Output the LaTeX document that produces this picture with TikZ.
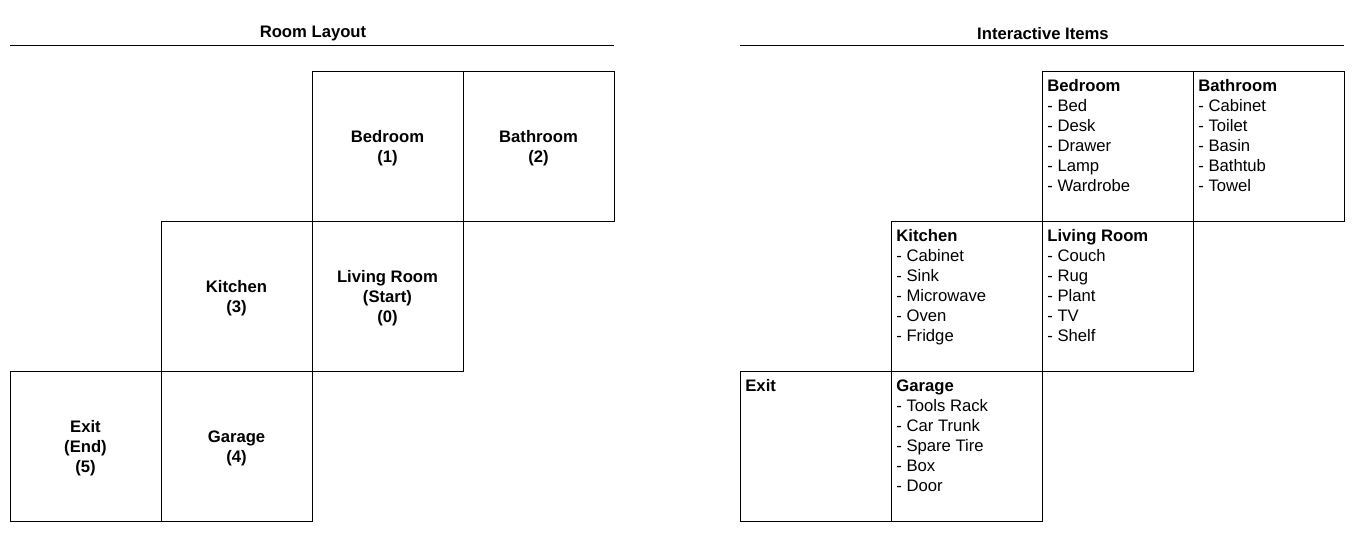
\documentclass[tikz,border=0pt]{standalone}
\usepackage{fontspec}
\setmainfont{Liberation Sans}
\begin{document}
\begin{tikzpicture}[x=0.75pt,y=-0.75pt,
  cell/.style={draw, line width=0.75pt, minimum width=113.25pt, minimum height=112.5pt, inner sep=0pt},
  roomname/.style={align=center, font=\fontsize{12.5}{15}\selectfont\bfseries},
  itemlist/.style={anchor=north west, align=left, inner sep=0pt, font=\fontsize{12.5}{15}\selectfont},
  heading/.style={font=\fontsize{12.5}{15}\selectfont\bfseries},
  rule/.style={line width=0.75pt}]
\useasboundingbox (0,0) rectangle (1359,535);

% ---- Room layout ----
\node[heading] (t1) at (313,33.5) {Room Layout};
\draw[rule] (10,45.5) -- (614,45.5);

\node[cell] (bed)  at (387.5,146.5) {};
\node[cell] (bath) at (538.5,146.5) {};
\node[cell] (kit)  at (236.5,296.5) {};
\node[cell] (liv)  at (387.5,296.5) {};
\node[cell] (exit) at (85.5,446.5) {};
\node[cell] (gar)  at (236.5,446.5) {};

\node[roomname] (bedT)  at ([yshift=-1.5pt]bed)  {Bedroom\\(1)};
\node[roomname] (bathT) at ([yshift=-1.5pt]bath) {Bathroom\\(2)};
\node[roomname] (kitT)  at ([yshift=-1.5pt]kit)  {Kitchen\\(3)};
\node[roomname] (livT)  at ([yshift=-1.5pt]liv)  {Living Room\\(Start)\\(0)};
\node[roomname] (exitT) at ([yshift=-1.5pt]exit) {Exit\\(End)\\(5)};
\node[roomname] (garT)  at ([yshift=-1.5pt]gar)  {Garage\\(4)};

% ---- Interactive items ----
\node[heading] (t2) at (1043,33.5) {Interactive Items};
\draw[rule] (740,45.5) -- (1344,45.5);

\node[cell] (ibed)  at (1117.5,146.5) {};
\node[cell] (ibath) at (1268.5,146.5) {};
\node[cell] (ikit)  at (966.5,296.5) {};
\node[cell] (iliv)  at (1117.5,296.5) {};
\node[cell] (iexit) at (815.5,446.5) {};
\node[cell] (igar)  at (966.5,446.5) {};

\tikzset{pad/.style={shift={(4.2pt,-6.4pt)}}}
\node[itemlist] (ibedT) at ([pad]ibed.north west)
  {\textbf{Bedroom}\\- Bed\\- Desk\\- Drawer\\- Lamp\\- Wardrobe};
\node[itemlist] (ibathT) at ([pad]ibath.north west)
  {\textbf{Bathroom}\\- Cabinet\\- Toilet\\- Basin\\- Bathtub\\- Towel};
\node[itemlist] (ikitT) at ([pad]ikit.north west)
  {\textbf{Kitchen}\\- Cabinet\\- Sink\\- Microwave\\- Oven\\- Fridge};
\node[itemlist] (ilivT) at ([pad]iliv.north west)
  {\textbf{Living Room}\\- Couch\\- Rug\\- Plant\\- TV\\- Shelf};
\node[itemlist] (iexitT) at ([pad]iexit.north west)
  {\textbf{Exit}};
\node[itemlist] (igarT) at ([pad]igar.north west)
  {\textbf{Garage}\\- Tools Rack\\- Car Trunk\\- Spare Tire\\- Box\\- Door};
\end{tikzpicture}
\end{document}
